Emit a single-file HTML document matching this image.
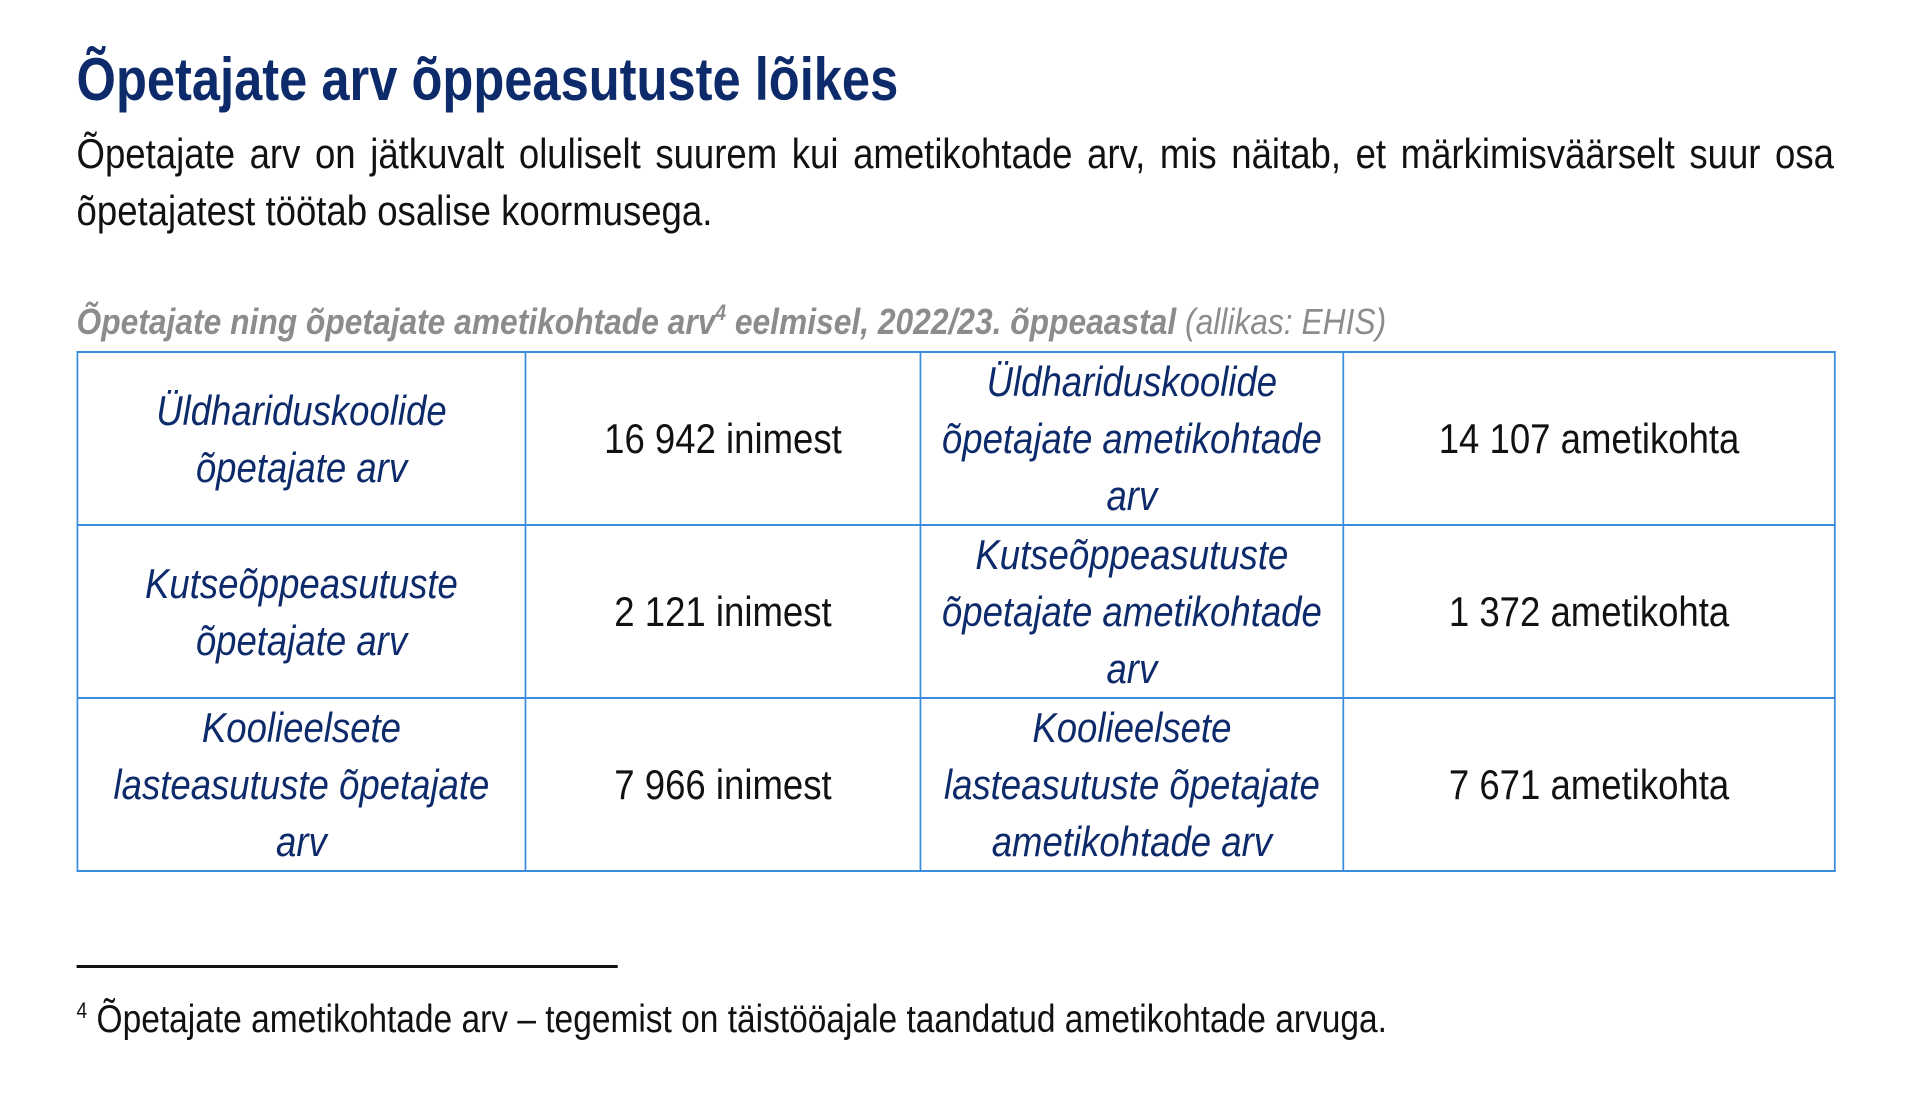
<!DOCTYPE html>
<html><head><meta charset="utf-8">
<style>
html,body{margin:0;padding:0;background:#fff;width:1920px;height:1112px;overflow:hidden}
#wrap{position:absolute;left:0;top:0;width:2207px;height:1112px;transform:scaleX(0.87);transform-origin:0 0;font-family:"Liberation Sans",sans-serif}
.abs{position:absolute;white-space:nowrap}
#title{left:88px;top:42px;font-size:60px;font-weight:bold;color:#0d2a6b;line-height:76px;transform:scaleX(0.97);transform-origin:0 0}
#intro{position:absolute;left:88px;top:125px;width:2020px;font-size:42px;line-height:57px;color:#111}
#intro .l1{text-align:justify;text-align-last:justify;white-space:nowrap}
#cap{left:88px;top:300px;font-size:36.5px;font-weight:bold;font-style:italic;color:#8c8c8c;line-height:44px}
#cap .src{font-weight:normal}
#cap sup{font-size:22px;vertical-align:14px;line-height:0}
table{position:absolute;left:88px;top:351px;border-collapse:collapse;table-layout:fixed;width:2020px}
td{border:2px solid #3a8dde;height:170px;padding:0 10px;text-align:center;vertical-align:middle;font-size:42px;line-height:57px;color:#111}
td.lab{font-style:italic;color:#0d2a6b}
#rule{position:absolute;left:88px;top:965px;width:622px;height:3px;background:#111}
#foot{left:88px;top:997px;font-size:38.5px;line-height:46px;color:#111}
#foot sup{font-size:22px;vertical-align:14px;line-height:0}
</style></head>
<body>
<div id="wrap">
<div id="title" class="abs">Õpetajate arv õppeasutuste lõikes</div>
<div id="intro"><div class="l1">Õpetajate arv on jätkuvalt oluliselt suurem kui ametikohtade arv, mis näitab, et märkimisväärselt suur osa</div><div>õpetajatest töötab osalise koormusega.</div></div>
<div id="cap" class="abs">Õpetajate ning õpetajate ametikohtade arv<sup>4</sup> eelmisel, 2022/23. õppeaastal <span class="src">(allikas: EHIS)</span></div>
<table>
<colgroup><col style="width:515px"><col style="width:454px"><col style="width:486px"><col style="width:565px"></colgroup>
<tr>
<td class="lab">Üldhariduskoolide<br>õpetajate arv</td>
<td>16 942 inimest</td>
<td class="lab">Üldhariduskoolide<br>õpetajate ametikohtade<br>arv</td>
<td>14 107 ametikohta</td>
</tr>
<tr>
<td class="lab">Kutseõppeasutuste<br>õpetajate arv</td>
<td>2 121 inimest</td>
<td class="lab">Kutseõppeasutuste<br>õpetajate ametikohtade<br>arv</td>
<td>1 372 ametikohta</td>
</tr>
<tr>
<td class="lab">Koolieelsete<br>lasteasutuste õpetajate<br>arv</td>
<td>7 966 inimest</td>
<td class="lab">Koolieelsete<br>lasteasutuste õpetajate<br>ametikohtade arv</td>
<td>7 671 ametikohta</td>
</tr>
</table>
<div id="rule"></div>
<div id="foot" class="abs"><sup>4</sup> Õpetajate ametikohtade arv – tegemist on täistööajale taandatud ametikohtade arvuga.</div>
</div>
</body></html>
